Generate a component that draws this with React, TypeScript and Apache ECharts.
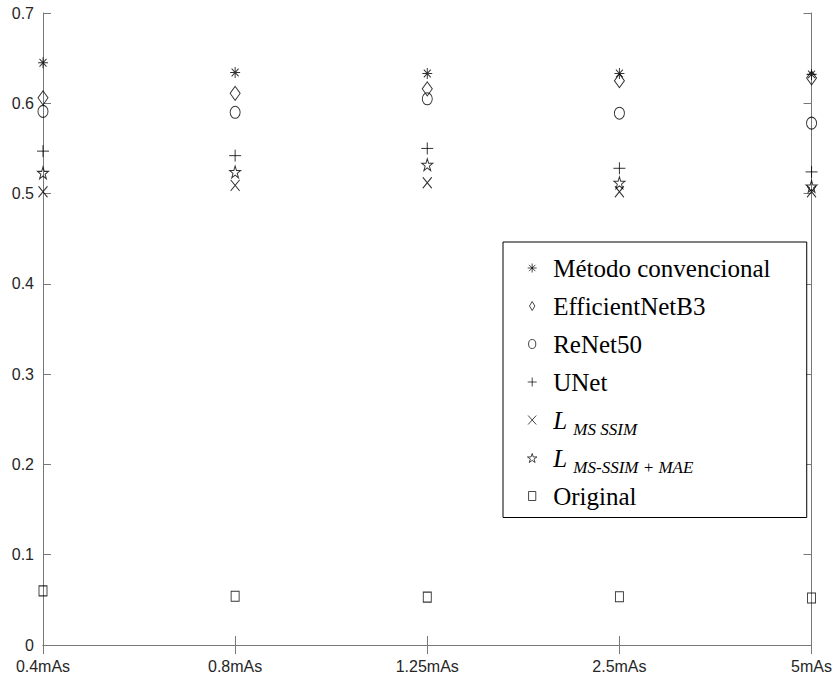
import React, { useEffect, useRef } from "react";
import * as echarts from "echarts";

const categories = ["0.4mAs", "0.8mAs", "1.25mAs", "2.5mAs", "5mAs"];
const metodoConvencional = [0.645, 0.634, 0.633, 0.633, 0.632];
const efficientNetB3 = [0.606, 0.611, 0.616, 0.625, 0.628];
const reNet50 = [0.591, 0.59, 0.605, 0.589, 0.578];
const uNet = [0.547, 0.542, 0.55, 0.528, 0.524];
const lMsSsim = [0.502, 0.509, 0.512, 0.502, 0.502];
const lMsSsimMae = [0.523, 0.524, 0.532, 0.512, 0.508];
const original = [0.06, 0.054, 0.053, 0.0535, 0.052];

const seriesNames = [
  "Método convencional",
  "EfficientNetB3",
  "ReNet50",
  "UNet",
  "L MS SSIM",
  "L MS-SSIM + MAE",
  "Original",
];

const SYM_ASTERISK = "path://M5 0 L5 10 M0 5 L10 5 M1.5 1.5 L8.5 8.5 M8.5 1.5 L1.5 8.5";
const SYM_DIAMOND = "path://M3 0 L6 5 L3 10 L0 5 Z";
const SYM_CIRCLE = "path://M0 5 A4 5 0 1 0 8 5 A4 5 0 1 0 0 5 Z";
const SYM_PLUS = "path://M5 0 L5 10 M0 5 L10 5";
const SYM_X = "path://M0 0 L9 10 M9 0 L0 10";
const SYM_STAR =
  "path://M5 0 L6.123 3.455 L9.755 3.455 L6.817 5.59 L7.939 9.045 L5 6.91 L2.061 9.045 L3.183 5.59 L0.245 3.455 L3.877 3.455 Z";
const SYM_SQUARE = "path://M0 0 L8 0 L8 10 L0 10 Z";

export default function App() {
  const ref = useRef<HTMLDivElement>(null);
  useEffect(() => {
    if (!ref.current) return;
    const chart = echarts.init(ref.current, null, { renderer: "svg" });
    const axisColor = "#777";
    const labelColor = "#262626";
    const mk = (name: string, data: number[], symbol: string, size: number[]) => ({
      name,
      type: "scatter",
      data,
      symbol,
      symbolSize: size,
      symbolKeepAspect: false,
      itemStyle: { color: "rgba(0,0,0,0)", borderColor: "#000", borderWidth: 1 },
      emphasis: { disabled: true },
      xAxisIndex: 0,
      yAxisIndex: 0,
    });
    const subStyle = {
      fontFamily: "Liberation Serif",
      fontStyle: "italic",
      fontSize: 17,
      lineHeight: 6,
      padding: [19, 0, 0, 0],
      color: "#000",
    };
    chart.setOption({
      animation: false,
      backgroundColor: "#fff",
      grid: { left: 43, right: 23, top: 13, bottom: 36 },
      xAxis: [
        {
          type: "category",
          data: categories,
          boundaryGap: false,
          position: "bottom",
          axisLine: { lineStyle: { color: axisColor, width: 1 } },
          axisTick: { inside: true, length: 9, lineStyle: { color: axisColor } },
          axisLabel: {
            color: labelColor,
            fontFamily: "Liberation Sans",
            fontSize: 16,
            margin: 13,
          },
          splitLine: { show: false },
        },
        {
          type: "category",
          data: categories,
          boundaryGap: false,
          position: "top",
          axisLine: { lineStyle: { color: axisColor, width: 1 } },
          axisTick: { inside: true, length: 9, lineStyle: { color: axisColor } },
          axisLabel: { show: false },
          splitLine: { show: false },
        },
      ],
      yAxis: [
        {
          type: "value",
          min: 0,
          max: 0.7,
          interval: 0.1,
          position: "left",
          axisLine: { show: true, lineStyle: { color: axisColor, width: 1 } },
          axisTick: { show: true, inside: true, length: 8, lineStyle: { color: axisColor } },
          axisLabel: {
            color: labelColor,
            fontFamily: "Liberation Sans",
            fontSize: 16,
            margin: 9,
          },
          splitLine: { show: false },
        },
        {
          type: "value",
          min: 0,
          max: 0.7,
          interval: 0.1,
          position: "right",
          axisLine: { show: true, lineStyle: { color: axisColor, width: 1 } },
          axisTick: { show: true, inside: true, length: 8, lineStyle: { color: axisColor } },
          axisLabel: { show: false },
          splitLine: { show: false },
        },
      ],
      legend: {
        orient: "vertical",
        left: 503,
        top: 242,
        itemWidth: 32,
        itemHeight: 9,
        itemGap: 2,
        padding: [8, 32, 3.5, 24],
        borderColor: "#000",
        borderWidth: 1,
        backgroundColor: "#fff",
        symbolKeepAspect: true,
        selectedMode: false,
        itemStyle: { borderWidth: 0.9 },
        data: seriesNames,
        formatter: (name: string) => {
          if (name.startsWith("L ")) {
            return `{l|L} {s|${name.slice(2)}}`;
          }
          return `{n|${name}}{s| }`;
        },
        textStyle: {
          fontFamily: "Liberation Serif",
          fontSize: 25,
          lineHeight: 25,
          color: "#000",
          rich: {
            n: {
              fontFamily: "Liberation Serif",
              fontSize: 25,
              lineHeight: 25,
              color: "#000",
            },
            l: {
              fontFamily: "Liberation Serif",
              fontStyle: "italic",
              fontSize: 25,
              lineHeight: 25,
              color: "#000",
            },
            s: subStyle,
          },
        },
      },
      series: [
        mk(seriesNames[0], metodoConvencional, SYM_ASTERISK, [10, 11]),
        mk(seriesNames[1], efficientNetB3, SYM_DIAMOND, [10, 14]),
        mk(seriesNames[2], reNet50, SYM_CIRCLE, [10, 12]),
        mk(seriesNames[3], uNet, SYM_PLUS, [12, 12]),
        mk(seriesNames[4], lMsSsim, SYM_X, [9, 11]),
        mk(seriesNames[5], lMsSsimMae, SYM_STAR, [11, 12]),
        mk(seriesNames[6], original, SYM_SQUARE, [8, 10]),
      ],
    });
    return () => chart.dispose();
  }, []);
  return (
    <div
      ref={ref}
      style={{ width: 835, height: 681, position: "absolute", left: 0, top: 0 }}
    />
  );
}
